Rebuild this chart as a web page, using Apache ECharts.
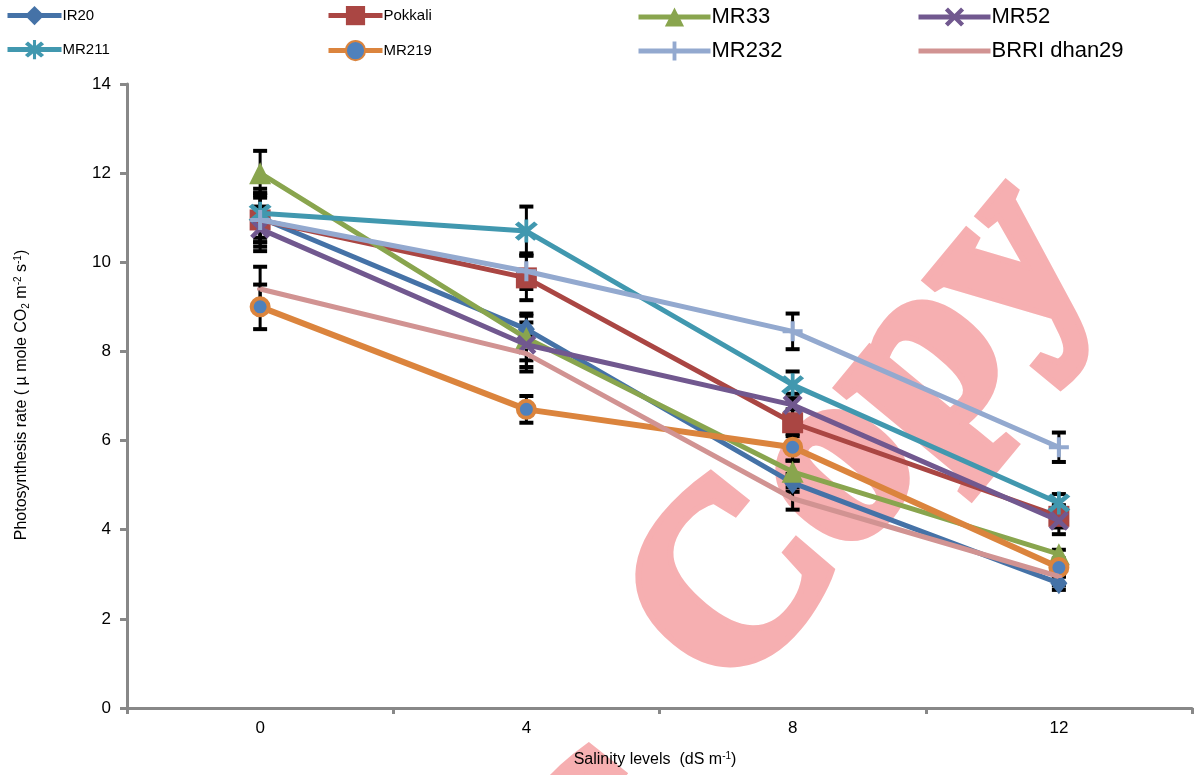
<!DOCTYPE html>
<html>
<head>
<meta charset="utf-8">
<script src="https://cdn.jsdelivr.net/npm/echarts@6/dist/echarts.min.js"></script>
<style>html,body{margin:0;padding:0;background:#fff}#c{width:1195px;height:775px}</style>
</head>
<body>
<div id="c"></div>
<script>
// ---- data ----
const categories = ['0', '4', '8', '12'];
const yTicks = [0, 2, 4, 6, 8, 10, 12, 14];
const seriesNames = ['IR20', 'Pokkali', 'MR33', 'MR52', 'MR211', 'MR219', 'MR232', 'BRRI dhan29'];
const ir20 = [11.0, 8.5, 5.05, 2.8];
const pokkali = [10.95, 9.65, 6.4, 4.3];
const mr33 = [12.0, 8.3, 5.3, 3.45];
const mr52 = [10.75, 8.15, 6.8, 4.2];
const mr211 = [11.1, 10.7, 7.25, 4.6];
const mr219 = [9.0, 6.7, 5.85, 3.15];
const mr232 = [10.95, 9.8, 8.45, 5.85];
const brri = [9.4, 7.95, 4.7, 2.95];
const ir20Err = [0.55, 0.35, 0.2, 0.15];
const pokkaliErr = [0.6, 0.5, 0.3, 0.25];
const mr33Err = [0.5, 0.5, 0.25, 0.1];
const mr52Err = [0.5, 0.5, 0.25, 0.3];
const mr211Err = [0.55, 0.55, 0.3, 0.2];
const mr219Err = [0.5, 0.3, 0.3, 0.2];
const mr232Err = [0.5, 0.4, 0.4, 0.33];
const brriErr = [0.5, 0.4, 0.25, 0.2];

const values = [ir20, pokkali, mr33, mr52, mr211, mr219, mr232, brri];
const errs = [ir20Err, pokkaliErr, mr33Err, mr52Err, mr211Err, mr219Err, mr232Err, brriErr];

// ---- styles ----
const colors = ['#4572A7', '#AA4643', '#89A54E', '#71588F', '#4198AF', '#DB843D', '#93A9CF', '#D19392'];
const X_PATH = 'path://M0,1.6 L1.6,0 L5,3.4 L8.4,0 L10,1.6 L6.6,5 L10,8.4 L8.4,10 L5,6.6 L1.6,10 L0,8.4 L3.4,5 Z';
const AST_PATH = 'path://M0,1.6 L1.6,0 L5,3.4 L8.4,0 L10,1.6 L6.6,5 L10,8.4 L8.4,10 L5,6.6 L1.6,10 L0,8.4 L3.4,5 Z M4.2,-1 L5.8,-1 L5.8,11 L4.2,11 Z';
const PLUS_PATH = 'path://M4,0 L6,0 L6,4 L10,4 L10,6 L6,6 L6,10 L4,10 L4,6 L0,6 L0,4 L4,4 Z';
const symbols = ['diamond', 'rect', 'triangle', X_PATH, AST_PATH, 'circle', PLUS_PATH, 'rect'];
const symbolSizes = [[17, 22], 21, 22, 20, 23, 17, 20, [6, 3]];

const lineSeries = seriesNames.map((name, i) => {
  const s = {
    name: name,
    type: 'line',
    data: values[i],
    symbol: symbols[i],
    symbolSize: symbolSizes[i],
    showAllSymbol: true,
    lineStyle: { color: colors[i], width: i === 5 ? 6 : 5 },
    itemStyle: { color: colors[i] },
    z: 3 + i * 0.01,
    animation: false
  };
  if (i === 5) {
    s.itemStyle = { color: '#4F81BD', borderColor: colors[5], borderWidth: 4 };
  }
  return s;
});

const errData = [];
errs.forEach((arr, i) => {
  arr.forEach((e, j) => {
    errData.push([j, values[i][j] - e, values[i][j] + e]);
  });
});

const errSeries = {
  type: 'custom',
  name: 'err',
  data: errData,
  z: 2,
  silent: true,
  animation: false,
  renderItem: function (params, api) {
    const x = api.value(0);
    const pLo = api.coord([x, api.value(1)]);
    const pHi = api.coord([x, api.value(2)]);
    const hw = 7;
    const st = { stroke: '#000', lineWidth: 3 };
    return {
      type: 'group',
      children: [
        { type: 'line', shape: { x1: pLo[0], y1: pLo[1], x2: pHi[0], y2: pHi[1] }, style: st },
        { type: 'line', shape: { x1: pLo[0] - hw, y1: pLo[1], x2: pLo[0] + hw, y2: pLo[1] }, style: { stroke: '#000', lineWidth: 4 } },
        { type: 'line', shape: { x1: pHi[0] - hw, y1: pHi[1], x2: pHi[0] + hw, y2: pHi[1] }, style: { stroke: '#000', lineWidth: 4 } }
      ]
    };
  }
};

const legendPos = [
  { left: 5, top: 6, fs: 15 },
  { left: 326, top: 6, fs: 15 },
  { left: 636, top: 6, fs: 22 },
  { left: 916, top: 6, fs: 22 },
  { left: 5, top: 40, fs: 15 },
  { left: 326, top: 40, fs: 15 },
  { left: 636, top: 40, fs: 22 },
  { left: 916, top: 40, fs: 22 }
];
const legends = seriesNames.map((n, i) => ({
  data: [n],
  left: legendPos[i].left,
  top: legendPos[i].top,
  itemWidth: i % 4 >= 2 ? 72 : 54,
  itemHeight: i === 7 ? 5 : 24,
  itemGap: 2,
  padding: 0,
  selectedMode: false,
  lineStyle: { width: 5 },
  textStyle: { fontSize: legendPos[i].fs, color: '#000', fontFamily: 'Liberation Sans, Arial, sans-serif', padding: [0, 0, 0, -4] }
}));

const wmFont = 'bold 252px "Liberation Serif", "Times New Roman", serif';

const chart = echarts.init(document.getElementById('c'));
chart.setOption({
  backgroundColor: '#fff',
  animation: false,
  textStyle: { fontFamily: 'Liberation Sans, Arial, sans-serif' },
  legend: legends,
  grid: { left: 127, right: 3, top: 84, bottom: 67, containLabel: false },
  xAxis: {
    type: 'category',
    data: categories,
    boundaryGap: true,
    axisLine: { lineStyle: { color: '#888', width: 3 } },
    axisTick: { show: true, length: 6, lineStyle: { color: '#888', width: 3 } },
    axisLabel: { color: '#000', fontSize: 17, margin: 12 },
    splitLine: { show: false }
  },
  yAxis: {
    type: 'value',
    min: yTicks[0],
    max: yTicks[yTicks.length - 1],
    interval: 2,
    axisLine: { show: true, lineStyle: { color: '#888', width: 3 } },
    axisTick: { show: true, length: 7, lineStyle: { color: '#888', width: 3 } },
    axisLabel: { color: '#000', fontSize: 17, margin: 16 },
    splitLine: { show: false }
  },
  graphic: [
    {
      type: 'text',
      x: 864, y: 438,
      rotation: 0.88,
      z: -10,
      silent: true,
      style: {
        text: 'Copy',
        x: 0, y: 0,
        align: 'center',
        verticalAlign: 'middle',
        fill: '#F6AFB1',
        stroke: '#F6AFB1',
        lineWidth: 12,
        lineJoin: 'round',
        font: wmFont
      }
    },
    {
      type: 'text',
      x: 617, y: 862,
      rotation: 0.88,
      z: -10,
      silent: true,
      style: {
        text: 'C',
        x: 0, y: 0,
        align: 'center',
        verticalAlign: 'middle',
        fill: '#F6AFB1',
        stroke: '#F6AFB1',
        lineWidth: 12,
        lineJoin: 'round',
        font: wmFont
      }
    },
    {
      type: 'text',
      x: 655, y: 760,
      z: 10,
      style: {
        x: 0, y: 0,
        align: 'center',
        verticalAlign: 'middle',
        rich: {
          n: { fontSize: 16, fill: '#000', fontFamily: 'Liberation Sans, Arial, sans-serif' },
          sp: { fontSize: 10, fill: '#000', fontFamily: 'Liberation Sans, Arial, sans-serif', verticalAlign: 'top', padding: [0, 0, 8, 0] }
        },
        text: '{n|Salinity levels  (dS m}{sp|-1}{n|)}'
      }
    },
    {
      type: 'text',
      x: 22, y: 395,
      rotation: Math.PI / 2,
      z: 10,
      style: {
        x: 0, y: 0,
        align: 'center',
        verticalAlign: 'middle',
        rich: {
          n: { fontSize: 16, fill: '#000', fontFamily: 'Liberation Sans, Arial, sans-serif' },
          sb: { fontSize: 10, fill: '#000', fontFamily: 'Liberation Sans, Arial, sans-serif', padding: [8, 0, 0, 0] },
          sp: { fontSize: 10, fill: '#000', fontFamily: 'Liberation Sans, Arial, sans-serif', padding: [0, 0, 8, 0] }
        },
        text: '{n|Photosynthesis rate ( µ mole CO}{sb|2}{n| m}{sp|-2}{n| s}{sp|-1}{n|)}'
      }
    }
  ],
  series: [errSeries].concat(lineSeries)
});
</script>
</body>
</html>
